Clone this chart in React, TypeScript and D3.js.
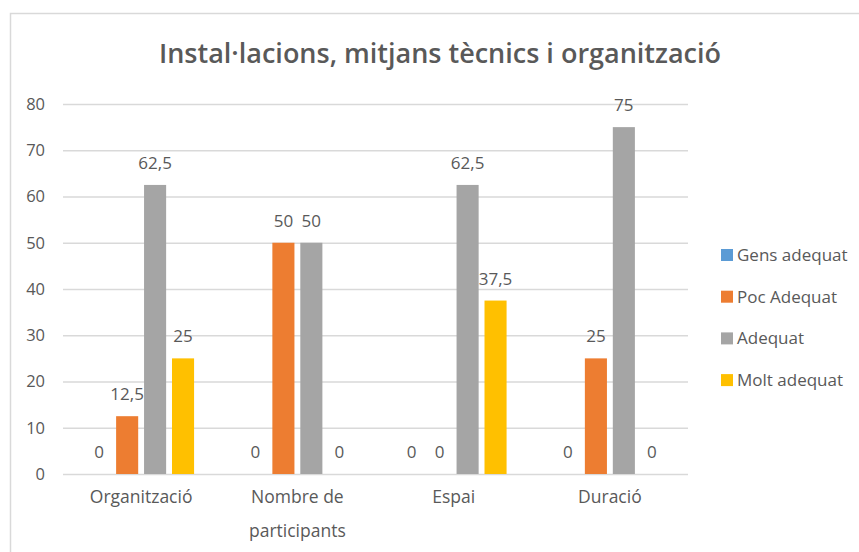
import React, { useEffect, useRef } from 'react';
import * as d3 from 'd3';

const categories = ['Organització', 'Nombre de participants', 'Espai', 'Duració'];
const categoryLines = [['Organització'], ['Nombre de', 'participants'], ['Espai'], ['Duració']];
const seriesNames = ['Gens adequat', 'Poc Adequat', 'Adequat', 'Molt adequat'];
const seriesColors = ['#5B9BD5', '#ED7D31', '#A5A5A5', '#FFC000'];

const gensAdequat = [0, 0, 0, 0];
const pocAdequat = [12.5, 50, 0, 25];
const adequat = [62.5, 50, 62.5, 75];
const moltAdequat = [25, 0, 37.5, 0];

const yTicks = [0, 10, 20, 30, 40, 50, 60, 70, 80];

const seriesValues = [gensAdequat, pocAdequat, adequat, moltAdequat];

const App = () => {
  const svgRef = useRef<SVGSVGElement>(null);

  useEffect(() => {
    const width = 859;
    const height = 552;
    const textColor = '#595959';
    const font = "'Open Sans', sans-serif";

    const svg = d3.select(svgRef.current);
    svg.selectAll('*').remove();
    svg.attr('width', width).attr('height', height);

    svg.append('rect')
      .attr('width', width)
      .attr('height', height)
      .attr('fill', '#fff');

    // chart area border
    svg.append('rect')
      .attr('x', 10.5)
      .attr('y', 13.5)
      .attr('width', 870)
      .attr('height', 570)
      .attr('fill', 'none')
      .attr('stroke', '#D9D9D9')
      .attr('stroke-width', 1.5);

    svg.append('text')
      .attr('x', 440)
      .attr('y', 63)
      .attr('text-anchor', 'middle')
      .attr('fill', textColor)
      .style('font-family', font)
      .style('font-size', '27px')
      .style('font-weight', 600)
      .text('Instal·lacions, mitjans tècnics i organització');

    const x0 = d3.scaleBand()
      .domain(categories)
      .range([63, 688])
      .paddingInner(0.29)
      .paddingOuter(0.145);

    const x1 = d3.scaleBand()
      .domain(seriesNames)
      .range([0, x0.bandwidth()])
      .paddingInner(0.21)
      .paddingOuter(0.09);

    const y = d3.scaleLinear()
      .domain([0, 80])
      .range([474, 104]);

    // gridlines
    svg.append('g')
      .selectAll('line')
      .data(yTicks)
      .enter()
      .append('line')
      .attr('x1', 63)
      .attr('x2', 688)
      .attr('y1', d => y(d) + 0.5)
      .attr('y2', d => y(d) + 0.5)
      .attr('stroke', '#D9D9D9')
      .attr('stroke-width', 1.5);

    // y tick labels
    svg.append('g')
      .selectAll('text')
      .data(yTicks)
      .enter()
      .append('text')
      .attr('x', 45)
      .attr('y', d => y(d))
      .attr('dy', '0.35em')
      .attr('text-anchor', 'end')
      .attr('fill', textColor)
      .style('font-family', font)
      .style('font-size', '16.5px')
      .text(d => d);

    const rows = categories.flatMap((c, ci) =>
      seriesNames.map((s, si) => ({ category: c, series: s, si, value: seriesValues[si][ci] }))
    );

    const groups = svg.append('g');

    groups.selectAll('rect.bar')
      .data(rows)
      .enter()
      .append('rect')
      .attr('class', 'bar')
      .attr('x', d => (x0(d.category) as number) + (x1(d.series) as number))
      .attr('y', d => y(d.value))
      .attr('width', x1.bandwidth())
      .attr('height', d => y(0) - y(d.value))
      .attr('fill', d => seriesColors[d.si]);

    groups.selectAll('text.label')
      .data(rows)
      .enter()
      .append('text')
      .attr('class', 'label')
      .attr('x', d => (x0(d.category) as number) + (x1(d.series) as number) + x1.bandwidth() / 2)
      .attr('y', d => y(d.value) - 16)
      .attr('text-anchor', 'middle')
      .attr('fill', textColor)
      .style('font-family', font)
      .style('font-size', '17px')
      .text(d => String(d.value).replace('.', ','));

    // category labels
    categories.forEach((c, ci) => {
      const cx = (x0(c) as number) + x0.bandwidth() / 2;
      categoryLines[ci].forEach((line, li) => {
        svg.append('text')
          .attr('x', cx)
          .attr('y', 503 + li * 34)
          .attr('text-anchor', 'middle')
          .attr('fill', textColor)
          .style('font-family', font)
          .style('font-size', '17.5px')
          .text(line);
      });
    });

    // legend
    const legend = svg.append('g')
      .selectAll('g')
      .data(seriesNames)
      .enter()
      .append('g')
      .attr('transform', (d, i) => `translate(721, ${255 + i * 41.7})`);

    legend.append('rect')
      .attr('x', 0)
      .attr('y', -6)
      .attr('width', 12)
      .attr('height', 12)
      .attr('fill', (d, i) => seriesColors[i]);

    legend.append('text')
      .attr('x', 16)
      .attr('y', 0)
      .attr('dy', '0.35em')
      .attr('fill', textColor)
      .style('font-family', font)
      .style('font-size', '17px')
      .text(d => d);
  }, []);

  return <svg ref={svgRef} style={{ position: 'absolute', left: 0, top: 0 }}></svg>;
};

export default App;
